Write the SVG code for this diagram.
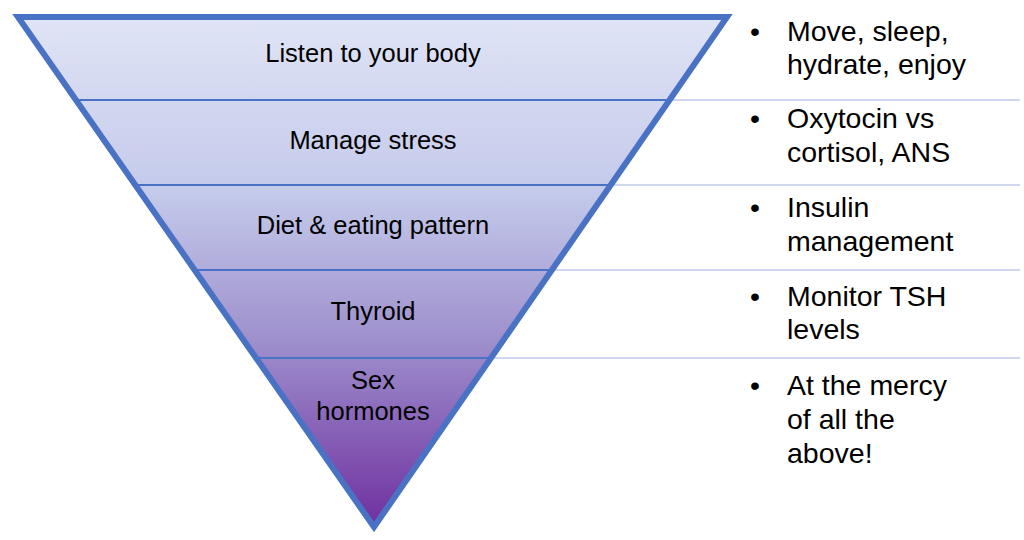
<svg xmlns="http://www.w3.org/2000/svg" width="1024" height="540" viewBox="0 0 1024 540">
<style>
.t{font-family:"Liberation Sans",Arial,sans-serif;font-size:25.5px;fill:#000;text-anchor:middle}
.b{font-family:"Liberation Sans",Arial,sans-serif;font-size:28.5px;fill:#000}
.in{stroke:#4a72c4;stroke-width:2}
.out{stroke:#9fb2e0;stroke-width:1.2}
</style>
<defs>
<linearGradient id="g" x1="0" y1="0" x2="0" y2="1">
<stop offset="0" stop-color="#e0e4f6"/>
<stop offset="0.35" stop-color="#c3c9ea"/>
<stop offset="0.65" stop-color="#9c8ccb"/>
<stop offset="1" stop-color="#6f2f9f"/>
</linearGradient>
</defs>
<rect width="1024" height="540" fill="#fff"/>
<g id="pyramid">
<polygon points="18,17 727,17 374,527" fill="url(#g)"/>
</g>
<g id="connectors">
<line class="in" x1="76" y1="100" x2="669" y2="100"/>
<line class="in" x1="135" y1="185" x2="610" y2="185"/>
<line class="in" x1="195" y1="270" x2="551" y2="270"/>
<line class="in" x1="256" y1="358" x2="490" y2="358"/>
<line class="out" x1="669" y1="100" x2="1020" y2="100"/>
<line class="out" x1="610" y1="185" x2="1020" y2="185"/>
<line class="out" x1="551" y1="270" x2="1020" y2="270"/>
<line class="out" x1="490" y1="358" x2="1020" y2="358"/>
</g>
<polygon points="18,17 727,17 374,527" fill="none" stroke="#4a72c4" stroke-width="6" stroke-linejoin="miter"/>
<g id="layer1"><text class="t" x="373" y="62">Listen to your body</text></g>
<g id="layer2"><text class="t" x="373" y="149">Manage stress</text></g>
<g id="layer3"><text class="t" x="373" y="234">Diet &amp; eating pattern</text></g>
<g id="layer4"><text class="t" x="373" y="320">Thyroid</text></g>
<g id="layer5"><text class="t" x="373" y="389">Sex</text><text class="t" x="373" y="420">hormones</text></g>
<g id="notes">
<text class="b" x="750" y="41">•</text><text class="b" x="787" y="41">Move, sleep,</text><text class="b" x="787" y="74">hydrate, enjoy</text>
<text class="b" x="750" y="128">•</text><text class="b" x="787" y="128">Oxytocin vs</text><text class="b" x="787" y="162">cortisol, ANS</text>
<text class="b" x="750" y="217">•</text><text class="b" x="787" y="217">Insulin</text><text class="b" x="787" y="251">management</text>
<text class="b" x="750" y="306">•</text><text class="b" x="787" y="306">Monitor TSH</text><text class="b" x="787" y="339">levels</text>
<text class="b" x="750" y="395">•</text><text class="b" x="787" y="395">At the mercy</text><text class="b" x="787" y="429">of all the</text><text class="b" x="787" y="463">above!</text>
</g>
</svg>
